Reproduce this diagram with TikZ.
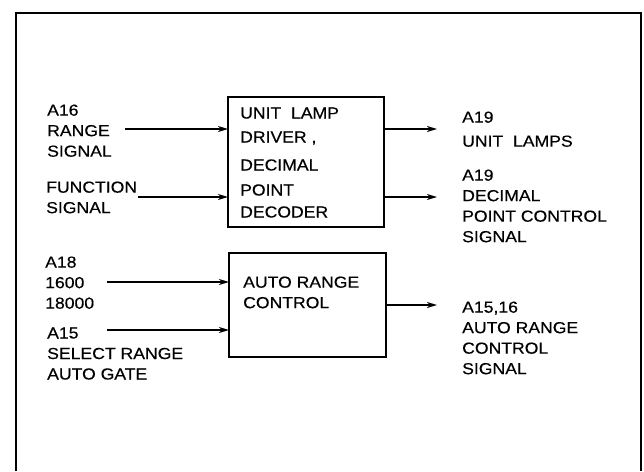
\documentclass[tikz,border=0pt]{standalone}
\usepackage{fontspec}
\newfontfamily\lfont{Liberation Sans}[FakeStretch=1.1,FakeBold=0.4]
\usetikzlibrary{arrows.meta}
\begin{document}
\begin{tikzpicture}[x=1pt,y=-1pt,
  lbl/.style={anchor=north west, align=left, inner sep=0pt, font={\lfont\fontsize{16}{20.5}\selectfont}},
  blockbox/.style={draw, line width=1.5pt, inner sep=0pt, outer sep=0pt},
  arr/.style={line width=1.4pt, -{Stealth[length=10pt,width=6pt,inset=3pt]}},
  framest/.style={line width=1.6pt}]
\useasboundingbox (0,0) rectangle (644,471);
% frame
\coordinate (f1) at (16,471);
\coordinate (f2) at (16,13);
\coordinate (f3) at (641,13);
\coordinate (f4) at (641,471);
\draw[framest] (f1) -- (f2) -- (f3) -- (f4);
% blocks
\node[blockbox, minimum width=156pt, minimum height=130pt] (b1) at (306,162) {};
\node[blockbox, minimum width=157pt, minimum height=104pt] (b2) at (307.5,305) {};
% block texts
\node[lbl] (t1) at (240,107.3) {UNIT\ \ LAMP\\[3.5pt]DRIVER\ ,\\[7.5pt]DECIMAL\\[4.5pt]POINT\\[1.5pt]DECODER};
\node[lbl] (t2) at (243,276.3) {AUTO RANGE\\CONTROL};
% left labels
\node[lbl] (l1) at (47,104.3) {A16\\RANGE\\SIGNAL};
\node[lbl] (l2) at (46,181.3) {FUNCTION\\SIGNAL};
\node[lbl] (l3) at (45,256.3) {A18\\1600\\18000};
\node[lbl] (l4) at (47,327.3) {A15\\SELECT RANGE\\AUTO GATE};
% right labels
\node[lbl] (r1) at (462,111.3) {A19\\[3.5pt]UNIT\ \ LAMPS};
\node[lbl] (r2) at (462,169.3) {A19\\DECIMAL\\POINT CONTROL\\SIGNAL};
\node[lbl] (r3) at (462,301.3) {A15,16\\AUTO RANGE\\CONTROL\\SIGNAL};
% arrow end points
\coordinate (s1) at (125,129);
\coordinate (s2) at (138,197);
\coordinate (s3) at (107,282);
\coordinate (s4) at (107,330);
\coordinate (e1) at (437,129);
\coordinate (e2) at (437,197);
\coordinate (e3) at (437,305);
% arrows
\draw[arr] (s1) -- (s1 -| b1.west);
\draw[arr] (s2) -- (s2 -| b1.west);
\draw[arr] (s3) -- (s3 -| b2.west);
\draw[arr] (s4) -- (s4 -| b2.west);
\draw[arr] (e1 -| b1.east) -- (e1);
\draw[arr] (e2 -| b1.east) -- (e2);
\draw[arr] (e3 -| b2.east) -- (e3);
\end{tikzpicture}
\end{document}
